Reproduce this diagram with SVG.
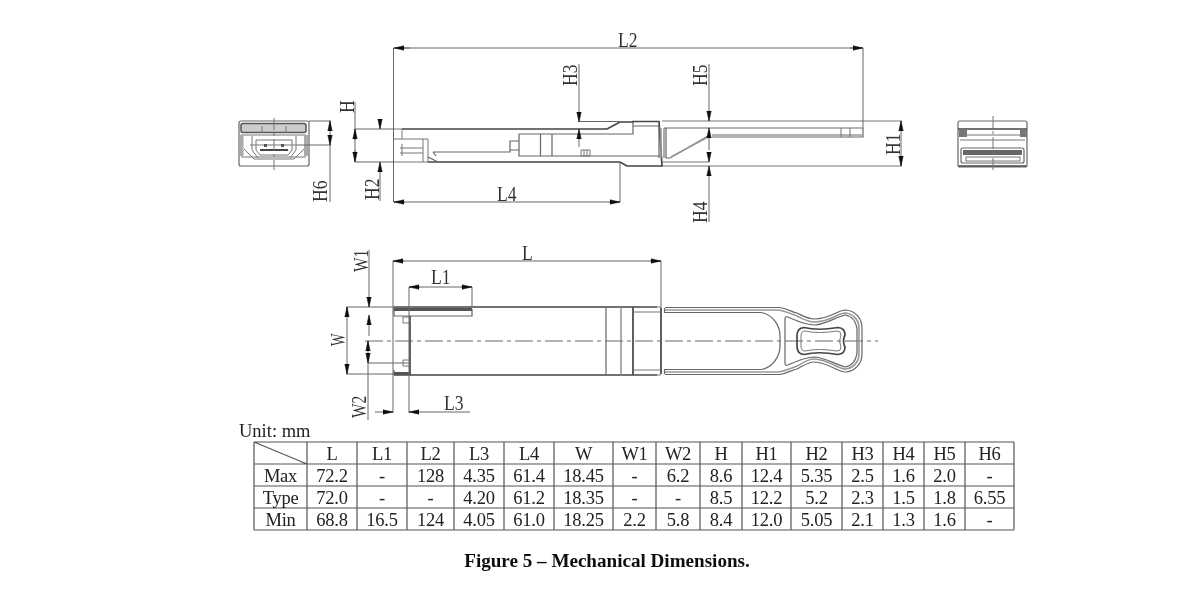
<svg xmlns="http://www.w3.org/2000/svg" width="1200" height="596" viewBox="0 0 1200 596">
<style>
text{font-family:"Liberation Serif","Times New Roman",serif;fill:#222}
.d{font-size:22px;fill:#333}
.t{font-size:18.500px;text-anchor:middle;letter-spacing:-.25px}
.dim{fill:none;stroke:#666;stroke-width:1}
.dimA{fill:none;stroke:#666;stroke-width:1;marker-end:url(#a)}
.thin{fill:none;stroke:#777;stroke-width:1}
.med{fill:none;stroke:#666;stroke-width:1.200}
.thick{fill:none;stroke:#444;stroke-width:1.700}
.grey{fill:none;stroke:#999;stroke-width:1.600}
.center{fill:none;stroke:#666;stroke-width:1;stroke-dasharray:18 4 4 4}
.grid{fill:none;stroke:#555;stroke-width:1.200}
.soft{filter:url(#b)}
</style>
<defs>
<marker id="a" markerUnits="userSpaceOnUse" markerWidth="11" markerHeight="7" refX="10" refY="3.500" orient="auto"><path d="M0 3.500 L0 1.300 L10 3.500 L0 5.700Z" fill="#111" stroke="#111" stroke-width=".5"/></marker>
<filter id="b" x="0" y="0" width="1200" height="596" filterUnits="userSpaceOnUse"><feGaussianBlur stdDeviation=".4"/></filter>
</defs>
<rect width="1200" height="596" fill="#fff"/>

<g id="front-view" class="soft">
<rect class="med" x="239" y="121" width="70" height="45" rx="2"/>
<rect x="241" y="123.500" width="65" height="9" rx="2" fill="#ccc" stroke="#555" stroke-width="1.500"/>
<path class="thin" d="M241 135H306M241 157H306M262 126V133M286 126V133"/>
<rect x="239.500" y="135" width="4" height="21" fill="#aaa"/>
<rect x="304" y="135" width="4.500" height="21" fill="#aaa"/>
<path class="thin" d="M244 149L254 159H294L304 149M252 136V150L258 158M296 136V150L290 158M250 145H298"/>
<path class="thin" d="M256 140H292V150L288 155H260L256 150Z"/>
<path d="M260 150H288" stroke="#444" stroke-width="2"/>
<path d="M264 144h3v3h-3zM281 144h3v3h-3z" fill="#555"/>
<path class="thin" d="M274 118V170" stroke-dasharray="12 3 3 3"/>
</g>

<g id="side-view" class="soft">
<path class="thick" d="M402 129H607L620 122H633V121.500H659L662 166H627L620 162H428"/>
<path class="thin" d="M394 129H402M394 162H428M402 129V139M394 139H428V162M423 139V162M400 148H423M400 153H423M402 144V156"/>
<path class="med" d="M433 152H510V141H519M436 156L433 152M428 157L438 162M510 150H519"/>
<path class="med" d="M519 134H633V122M519 134V156H660M540.500 134V156M552 134V156M633 126H659M659 126V158"/>
<path class="thin" d="M581 150H590V156H581ZM584 150V156M587 150V156"/>
<path class="grey" d="M661 128V158M664 128V158"/>
<path class="thin" d="M662 121H902M662 166H902"/>
<path class="med" d="M664 128H863M712 137H863V128M666 128V158H670L708 136"/>
<path class="grey" d="M671 157L708 137M712 135H863"/>
<path class="thin" d="M841 128V137M850 128V137M662 162H709"/>
</g>

<g id="rear-view" class="soft">
<rect class="med" x="958" y="121" width="69" height="46" rx="2"/>
<path class="thick" d="M958 129H1027M959 166H1026"/>
<path class="thin" d="M966 135H1020M960 140H1025"/>
<rect x="959" y="130" width="8" height="7" fill="#777"/>
<rect x="1020" y="130" width="7" height="7" fill="#777"/>
<rect class="med" x="961" y="148" width="63" height="15" rx="2"/>
<rect x="963" y="150" width="59" height="5" fill="#666"/>
<rect class="thin" x="966" y="157" width="54" height="4"/>
<path class="thin" d="M993 116V171" stroke-dasharray="12 3 3 3"/>
</g>

<g id="top-view" class="soft">
<path class="thick" d="M394 307H657M394 375H657"/>
<path class="med" d="M394 316H472V309M394 307V316M394 370V375"/>
<rect x="394" y="308" width="78" height="3" fill="#555"/>
<rect x="394" y="372" width="15" height="3" fill="#555"/>
<path class="thick" d="M410 316V375"/>
<path class="thin" d="M403 317h7v6h-7zM403 360h7v6h-7z"/>
<path class="med" d="M606 307V375"/>
<path class="grey" d="M621 307V375"/>
<path class="thick" d="M633 307V375"/>
<path class="thick" d="M661 308V374"/>
<path class="thin" d="M633 312H660M633 370H660M633 307H661M633 375H661"/>
<path class="center" d="M365 341H878"/>
</g>

<g id="handle" class="soft">
<path class="med" d="M665 307.500H780C788 309 792 312 797 313C803 316 808 319 814 319C822 319 830 316 836 313C840 311 843 310 846 310C855 311 862 318 862 328V354C862 364 855 371 846 372C843 372 840 371 836 369C830 366 822 362 814 362C808 362 803 366 797 369C792 370 788 373 780 374.500H665"/>
<path class="grey" d="M665 310H779C788 312 792 314 797 316C803 319 808 322 814 322C822 322 830 319 836 316C840 314 843 313 846 313C853 314 859 320 859 328V354C859 362 853 368 846 369C843 369 840 368 836 366C830 363 822 359 814 359C808 359 803 363 797 366C792 368 788 370 779 372H665"/>
<path class="med" d="M665 312.500H761C772 314 780 325 780 336V346C780 357 772 368 761 369.500H665"/>
<path class="med" d="M664.500 308V313M664.500 369V374"/>
<path class="med" d="M785 363V319Q785 316 788 317C797 321 805 325 815 325C826 324 834 318 845 315C852 316 856 322 857 329V353C856 360 852 366 845 367C834 364 826 358 815 357C805 357 797 361 788 365Q785 366 785 363Z"/>
<path class="thick" d="M797 336Q797 328 804 327.500Q818 331 838 327.500Q845 328 845 335Q842 341 845 347Q845 354 838 354.500Q818 351 804 354.500Q797 354 797 346Z"/>
<path class="thin" d="M801 336Q801 331 805 331Q818 334 837 331Q841 331 841 335Q838 341 841 347Q841 351 837 351Q818 348 805 351Q801 351 801 346Z"/>
</g>

<g id="connectors" class="soft">
<path class="dim" d="M393.500 48V202M863 48V128M620 163V202M355 129H394M355 162H394M355 102V162M309 121H331M298 145H331"/>
<path class="dim" d="M620 121.500H579M579 64V112M579 139V147M709 64V112M709 176V222M709 136V150M901 121V166M380 201V172"/>
<path class="dim" d="M393 261V413M661 261V308M409 287V413M472 287V307M346 307H394M346 374H394M369 250V298M368 341V420M368 363H410M369 325V336M347 307V374M330 121V202"/>
<path class="dim" d="M394 48H863M394 202H620M393 261H661M409 287H472"/>
<path class="dimA" d="M410 48H394"/>
<path class="dimA" d="M850 48H863"/>
<path class="dimA" d="M355 140V129"/>
<path class="dimA" d="M355 150V162"/>
<path class="dimA" d="M380 119V129"/>
<path class="dimA" d="M380 172V162"/>
<path class="dimA" d="M330 131V121"/>
<path class="dimA" d="M330 135V145"/>
<path class="dimA" d="M405 202H394"/>
<path class="dimA" d="M609 202H620"/>
<path class="dimA" d="M579 112V122"/>
<path class="dimA" d="M579 139V129"/>
<path class="dimA" d="M709 112V121"/>
<path class="dimA" d="M709 137V128"/>
<path class="dimA" d="M709 152V162"/>
<path class="dimA" d="M709 176V166"/>
<path class="dimA" d="M901 131V121"/>
<path class="dimA" d="M901 156V166"/>
<path class="dimA" d="M404 261H393"/>
<path class="dimA" d="M650 261H661"/>
<path class="dimA" d="M420 287H409"/>
<path class="dimA" d="M461 287H472"/>
<path class="dimA" d="M375 412H393"/>
<path class="dimA" d="M470 412H409"/>
<path class="dimA" d="M369 297V307"/>
<path class="dimA" d="M369 325V315"/>
<path class="dimA" d="M347 317V307"/>
<path class="dimA" d="M347 364V374"/>
<path class="dimA" d="M368 351V341"/>
<path class="dimA" d="M368 353V363"/>
</g>

<g id="dimension-labels" class="soft">
<text class="d" transform="translate(618,47) scale(.8,1)">L2</text>
<text class="d" transform="translate(577,86) rotate(-90) scale(.8,1)">H3</text>
<text class="d" transform="translate(707,86) rotate(-90) scale(.8,1)">H5</text>
<text class="d" transform="translate(707,223) rotate(-90) scale(.8,1)">H4</text>
<text class="d" transform="translate(354,113) rotate(-90) scale(.8,1)">H</text>
<text class="d" transform="translate(379,200) rotate(-90) scale(.8,1)">H2</text>
<text class="d" transform="translate(327,202) rotate(-90) scale(.8,1)">H6</text>
<text class="d" transform="translate(900,155) rotate(-90) scale(.8,1)">H1</text>
<text class="d" transform="translate(497,201) scale(.8,1)">L4</text>
<text class="d" transform="translate(522,260) scale(.8,1)">L</text>
<text class="d" transform="translate(431,284) scale(.8,1)">L1</text>
<text class="d" transform="translate(444,410) scale(.8,1)">L3</text>
<text class="d" transform="translate(368,272) rotate(-90) scale(.7,1)">W1</text>
<text class="d" transform="translate(345,346) rotate(-90) scale(.6,1)">W</text>
<text class="d" transform="translate(366,418) rotate(-90) scale(.7,1)">W2</text>
</g>

<g id="dimension-table" class="soft">
<text x="239" y="437" font-size="18.500">Unit: mm</text>
<path class="grid" d="M254 442H1014M254 464H1014M254 486H1014M254 508H1014M254 530H1014M254 442V530M307 442V530M357 442V530M407 442V530M454 442V530M504 442V530M554 442V530M613 442V530M656 442V530M700 442V530M742 442V530M791 442V530M842 442V530M883 442V530M924 442V530M965 442V530M1014 442V530M254 442L307 464"/>
<text class="t" y="460"><tspan x="332">L</tspan><tspan x="382">L1</tspan><tspan x="430.500">L2</tspan><tspan x="479">L3</tspan><tspan x="529">L4</tspan><tspan x="583.500">W</tspan><tspan x="634.500">W1</tspan><tspan x="678">W2</tspan><tspan x="721">H</tspan><tspan x="766.500">H1</tspan><tspan x="816.500">H2</tspan><tspan x="862.500">H3</tspan><tspan x="903.500">H4</tspan><tspan x="944.500">H5</tspan><tspan x="989.500">H6</tspan></text>
<text class="t" y="482"><tspan x="280.500">Max</tspan><tspan x="332">72.2</tspan><tspan x="382">-</tspan><tspan x="430.500">128</tspan><tspan x="479">4.35</tspan><tspan x="529">61.4</tspan><tspan x="583.500">18.45</tspan><tspan x="634.500">-</tspan><tspan x="678">6.2</tspan><tspan x="721">8.6</tspan><tspan x="766.500">12.4</tspan><tspan x="816.500">5.35</tspan><tspan x="862.500">2.5</tspan><tspan x="903.500">1.6</tspan><tspan x="944.500">2.0</tspan><tspan x="989.500">-</tspan></text>
<text class="t" y="504"><tspan x="280.500">Type</tspan><tspan x="332">72.0</tspan><tspan x="382">-</tspan><tspan x="430.500">-</tspan><tspan x="479">4.20</tspan><tspan x="529">61.2</tspan><tspan x="583.500">18.35</tspan><tspan x="634.500">-</tspan><tspan x="678">-</tspan><tspan x="721">8.5</tspan><tspan x="766.500">12.2</tspan><tspan x="816.500">5.2</tspan><tspan x="862.500">2.3</tspan><tspan x="903.500">1.5</tspan><tspan x="944.500">1.8</tspan><tspan x="989.500">6.55</tspan></text>
<text class="t" y="526"><tspan x="280.500">Min</tspan><tspan x="332">68.8</tspan><tspan x="382">16.5</tspan><tspan x="430.500">124</tspan><tspan x="479">4.05</tspan><tspan x="529">61.0</tspan><tspan x="583.500">18.25</tspan><tspan x="634.500">2.2</tspan><tspan x="678">5.8</tspan><tspan x="721">8.4</tspan><tspan x="766.500">12.0</tspan><tspan x="816.500">5.05</tspan><tspan x="862.500">2.1</tspan><tspan x="903.500">1.3</tspan><tspan x="944.500">1.6</tspan><tspan x="989.500">-</tspan></text>
<text x="607" y="567" font-size="19.100" font-weight="bold" text-anchor="middle" style="fill:#111">Figure 5 – Mechanical Dimensions.</text>
</g>
</svg>
